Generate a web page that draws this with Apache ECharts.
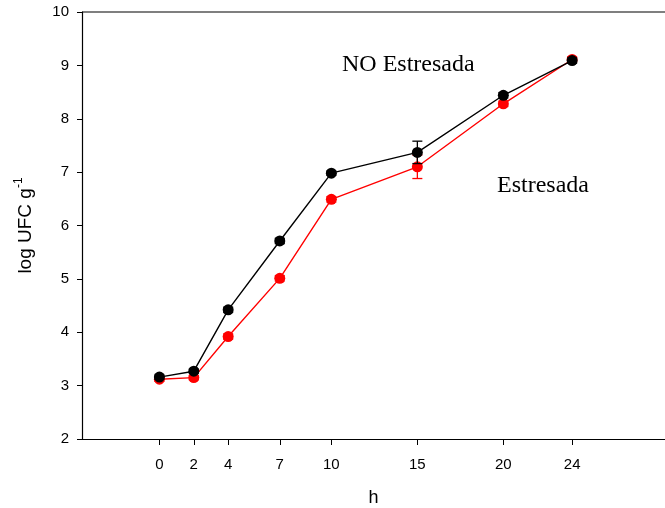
<!DOCTYPE html>
<html>
<head>
<meta charset="utf-8">
<script src="https://cdn.jsdelivr.net/npm/echarts@6/dist/echarts.min.js"></script>
<style>
  html, body { margin: 0; padding: 0; background: #fff; }
  #chart { width: 665px; height: 508px; }
</style>
</head>
<body>
<div id="chart"></div>
<script>
// Sampling times (h) and log UFC g-1 counts
const hours = [0, 2, 4, 7, 10, 15, 20, 24];
const noEstresada = [3.16, 3.27, 4.42, 5.71, 6.98, 7.37, 8.44, 9.09];
const noEstresadaErr = [0.04, 0.04, 0.05, 0.05, 0.04, 0.21, 0.05, 0.05];
const estresada = [3.12, 3.15, 3.92, 5.01, 6.49, 7.10, 8.28, 9.11];
const estresadaErr = [0.04, 0.04, 0.05, 0.05, 0.05, 0.22, 0.05, 0.05];
const yTicks = [2, 3, 4, 5, 6, 7, 8, 9, 10];

const chart = echarts.init(document.getElementById('chart'));
const sans = 'Liberation Sans, Arial, sans-serif';
const axisFont = { fontFamily: sans, fontSize: 15, color: '#000' };

function pairs(vals) { return hours.map((h, i) => [h, vals[i]]); }
function errData(vals, errs) { return hours.map((h, i) => [h, vals[i] - errs[i], vals[i] + errs[i]]); }

function errorSeries(vals, errs, color, z) {
  return {
    type: 'custom',
    z: z,
    data: errData(vals, errs),
    renderItem: function (params, api) {
      const lo = api.coord([api.value(0), api.value(1)]);
      const hi = api.coord([api.value(0), api.value(2)]);
      const w = 5;
      const st = { stroke: color, lineWidth: 1.3 };
      return {
        type: 'group',
        children: [
          { type: 'line', shape: { x1: lo[0], y1: lo[1], x2: hi[0], y2: hi[1] }, style: st },
          { type: 'line', shape: { x1: lo[0] - w, y1: lo[1], x2: lo[0] + w, y2: lo[1] }, style: st },
          { type: 'line', shape: { x1: hi[0] - w, y1: hi[1], x2: hi[0] + w, y2: hi[1] }, style: st }
        ]
      };
    }
  };
}

function lineSeries(name, vals, color, z) {
  return {
    name: name,
    type: 'line',
    z: z,
    data: pairs(vals),
    symbol: 'circle',
    symbolSize: 11,
    lineStyle: { color: color, width: 1.4 },
    itemStyle: { color: color },
    animation: false
  };
}

chart.setOption({
  animation: false,
  grid: { left: 82, right: 0, top: 12, bottom: 69, containLabel: false, outerBoundsMode: 'none' },
  xAxis: {
    type: 'value',
    min: -4.5,
    max: 29.4,
    name: 'h',
    nameLocation: 'middle',
    nameGap: 50,
    nameTextStyle: { fontFamily: sans, fontSize: 18, color: '#000' },
    splitLine: { show: false },
    axisLine: { onZero: false, lineStyle: { color: '#000', width: 1.2 } },
    axisTick: { show: true, customValues: hours, length: 6, lineStyle: { color: '#000' } },
    axisLabel: Object.assign({ customValues: hours, margin: 18 }, axisFont)
  },
  yAxis: {
    type: 'value',
    min: 2,
    max: 10,
    interval: 1,
    name: '{n|log UFC g}{s|-1}',
    nameLocation: 'middle',
    nameGap: 47,
    nameTextStyle: {
      rich: {
        n: { fontFamily: sans, fontSize: 19, color: '#000', lineHeight: 22, verticalAlign: 'bottom' },
        s: { fontFamily: sans, fontSize: 12, color: '#000', lineHeight: 22, verticalAlign: 'top', padding: [0, 0, 10, 0] }
      }
    },
    splitLine: { show: false },
    axisLine: { show: true, onZero: false, lineStyle: { color: '#000', width: 1.2 } },
    axisTick: { show: true, length: 5, lineStyle: { color: '#000' } },
    axisLabel: Object.assign({ margin: 13, customValues: yTicks }, axisFont)
  },
  graphic: [
    { type: 'line', shape: { x1: 82, y1: 12, x2: 665, y2: 12 }, style: { stroke: '#000', lineWidth: 1.2 } },
    { type: 'text', left: 342, top: 53, style: { text: 'NO Estresada', font: '24px "Liberation Serif", "Times New Roman", serif', fill: '#000' } },
    { type: 'text', left: 497, top: 174, style: { text: 'Estresada', font: '24px "Liberation Serif", "Times New Roman", serif', fill: '#000' } }
  ],
  series: [
    errorSeries(estresada, estresadaErr, '#ff0000', 2),
    lineSeries('Estresada', estresada, '#ff0000', 3),
    errorSeries(noEstresada, noEstresadaErr, '#000000', 4),
    lineSeries('NO Estresada', noEstresada, '#000000', 5)
  ]
});
</script>
</body>
</html>
